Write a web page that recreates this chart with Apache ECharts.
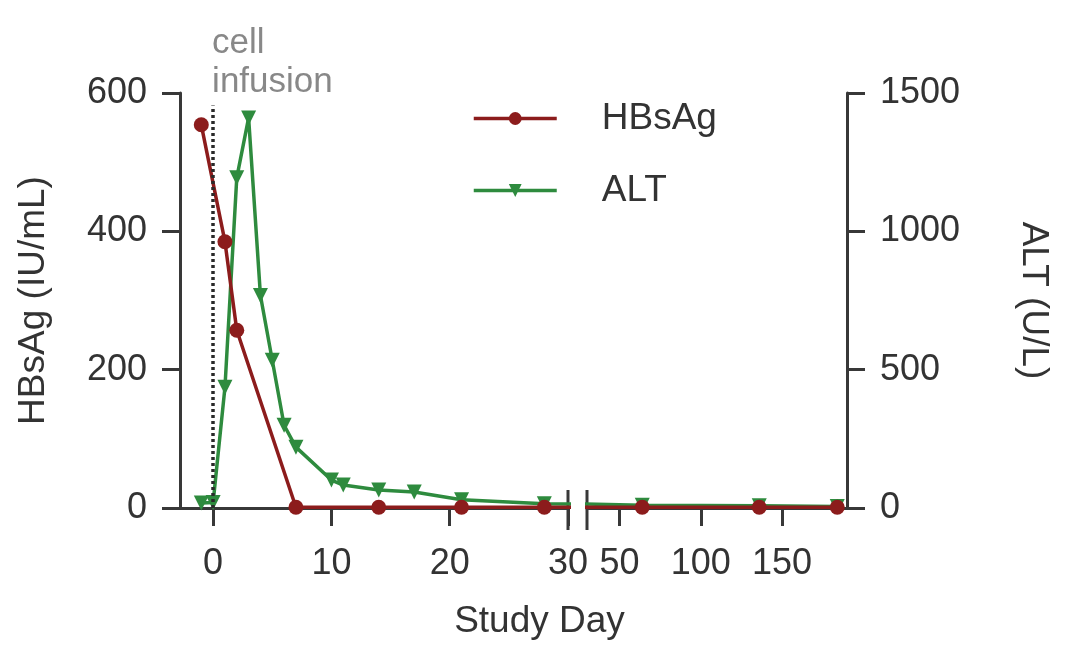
<!DOCTYPE html>
<html><head><meta charset="utf-8">
<script src="https://cdn.jsdelivr.net/npm/echarts@6/dist/echarts.min.js"></script>
<style>html,body{margin:0;padding:0;background:#fff}#c{width:1079px;height:656px}</style>
</head><body><div id="c"></div>
<script>
// ---- data ----
const hbsDays = [-1, 1, 2, 7, 14, 21, 28, 64, 136, 184];
const hbsVals = [554, 385, 257, 1, 1, 1, 1, 1, 1, 1];
const altDays = [-1, 0, 1, 2, 3, 4, 5, 6, 7, 10, 11, 14, 17, 21, 28, 64, 136, 184];
const altVals = [18, 20, 436, 1194, 1410, 768, 534, 299, 220, 101, 83, 65, 58, 30, 15, 10, 8, 5];
const seg1Ticks = [0, 10, 20, 30];
const seg2Ticks = [50, 100, 150];
const infusionDay = 0;
const BREAK = 30;

const FONT = "'Liberation Sans', Arial, sans-serif";
const AX = '#383838';
const RED = '#8c1c1c';
const GREEN = '#2e8b3e';

function split(days, vals) {
  const pts = days.map((d, i) => [d, vals[i]]);
  const k = pts.findIndex(p => p[0] > BREAK);
  return [pts.slice(0, k + 1), pts.slice(k - 1)];
}
const [hbs1, hbs2] = split(hbsDays, hbsVals);
const [alt1, alt2] = split(altDays, altVals);

const plain = v => String(v);
const axisCommon = {
  axisLine: { show: true, onZero: false, lineStyle: { color: AX, width: 3 } },
  axisTick: { show: true, length: 18, lineStyle: { color: AX, width: 3 } },
  axisLabel: { fontSize: 36, color: '#333', fontFamily: FONT, formatter: plain },
  splitLine: { show: false }
};

const chart = echarts.init(document.getElementById('c'));
const option = {
  animation: false,
  backgroundColor: '#fff',
  grid: [
    { left: 180, top: 93, width: 388, height: 415 },
    { left: 587, top: 93, width: 260, height: 415 }
  ],
  legend: {
    data: ['HBsAg', 'ALT'],
    orient: 'vertical',
    left: 472, top: 100, padding: 0,
    itemWidth: 83, itemHeight: 16, itemGap: 35,
    lineStyle: { width: 3.5 },
    textStyle: { fontSize: 37, color: '#333', fontFamily: FONT, padding: [0, 0, 0, 40] }
  },
  xAxis: [
    Object.assign({}, axisCommon, {
      gridIndex: 0, type: 'value', min: -2.8, max: 30,
      axisTick: Object.assign({}, axisCommon.axisTick, { customValues: seg1Ticks }),
      axisLabel: Object.assign({}, axisCommon.axisLabel, { customValues: seg1Ticks, margin: 38 })
    }),
    Object.assign({}, axisCommon, {
      gridIndex: 1, type: 'value', min: 30, max: 190,
      axisTick: Object.assign({}, axisCommon.axisTick, { customValues: seg2Ticks }),
      axisLabel: Object.assign({}, axisCommon.axisLabel, { customValues: seg2Ticks, margin: 38 })
    })
  ],
  yAxis: [
    Object.assign({}, axisCommon, {
      gridIndex: 0, position: 'left', type: 'value', min: 0, max: 600, interval: 200,
      axisLabel: Object.assign({}, axisCommon.axisLabel, { margin: 33 }),
      name: 'HBsAg (IU/mL)', nameLocation: 'middle', nameGap: 128,
      nameTextStyle: { fontSize: 37, color: '#333', fontFamily: FONT }
    }),
    { gridIndex: 0, position: 'right', type: 'value', min: 0, max: 1500, show: false },
    { gridIndex: 1, position: 'left', type: 'value', min: 0, max: 600, show: false },
    Object.assign({}, axisCommon, {
      gridIndex: 1, position: 'right', type: 'value', min: 0, max: 1500, interval: 500,
      axisLabel: Object.assign({}, axisCommon.axisLabel, { margin: 33 }),
      name: 'ALT (U/L)', nameLocation: 'middle', nameGap: 168, nameRotate: -90,
      nameTextStyle: { fontSize: 37, color: '#333', fontFamily: FONT }
    })
  ],
  series: [
    {
      name: 'ALT', type: 'line', xAxisIndex: 0, yAxisIndex: 1, data: alt1, clip: true,
      symbol: 'triangle', symbolRotate: 180, symbolSize: 15, color: GREEN,
      lineStyle: { width: 3.5, color: GREEN }, itemStyle: { color: GREEN }
    },
    {
      name: 'ALT', type: 'line', xAxisIndex: 1, yAxisIndex: 3, data: alt2, clip: true,
      symbol: 'triangle', symbolRotate: 180, symbolSize: 15, color: GREEN,
      lineStyle: { width: 3.5, color: GREEN }, itemStyle: { color: GREEN }
    },
    {
      name: 'HBsAg', type: 'line', xAxisIndex: 0, yAxisIndex: 0, data: hbs1, clip: true,
      symbol: 'circle', symbolSize: 15, color: RED,
      lineStyle: { width: 3.5, color: RED }, itemStyle: { color: RED },
      markLine: {
        silent: true, symbol: 'none', label: { show: false },
        lineStyle: { type: [3, 3], color: '#2a2a2a', width: 3.5 },
        emphasis: { disabled: true },
        data: [[{ coord: [infusionDay, 0] }, { coord: [infusionDay, 582] }]]
      }
    },
    {
      name: 'HBsAg', type: 'line', xAxisIndex: 1, yAxisIndex: 2, data: hbs2, clip: true,
      symbol: 'circle', symbolSize: 15, color: RED,
      lineStyle: { width: 3.5, color: RED }, itemStyle: { color: RED }
    }
  ]
};
chart.setOption(option);

// decorations derived from the axes
const pEnd1 = chart.convertToPixel({ xAxisIndex: 0, yAxisIndex: 0 }, [BREAK, 0]);
const pStart2 = chart.convertToPixel({ xAxisIndex: 1, yAxisIndex: 2 }, [BREAK, 0]);
const pInf = chart.convertToPixel({ xAxisIndex: 0, yAxisIndex: 0 }, [infusionDay, 600]);
chart.setOption({
  graphic: [
    { type: 'line', shape: { x1: pEnd1[0], y1: pEnd1[1] - 18, x2: pEnd1[0], y2: pEnd1[1] + 22 },
      style: { stroke: AX, lineWidth: 3 } },
    { type: 'line', shape: { x1: pStart2[0], y1: pStart2[1] - 18, x2: pStart2[0], y2: pStart2[1] + 22 },
      style: { stroke: AX, lineWidth: 3 } },
    { type: 'text', left: pInf[0] - 1, top: 24,
      style: { text: 'cell\ninfusion', fontSize: 35, lineHeight: 39, fill: '#888', fontFamily: FONT } },
    { type: 'text', left: 'center', top: 603,
      style: { text: 'Study Day', fontSize: 37, fill: '#333', fontFamily: FONT } }
  ]
});
</script>
</body></html>
